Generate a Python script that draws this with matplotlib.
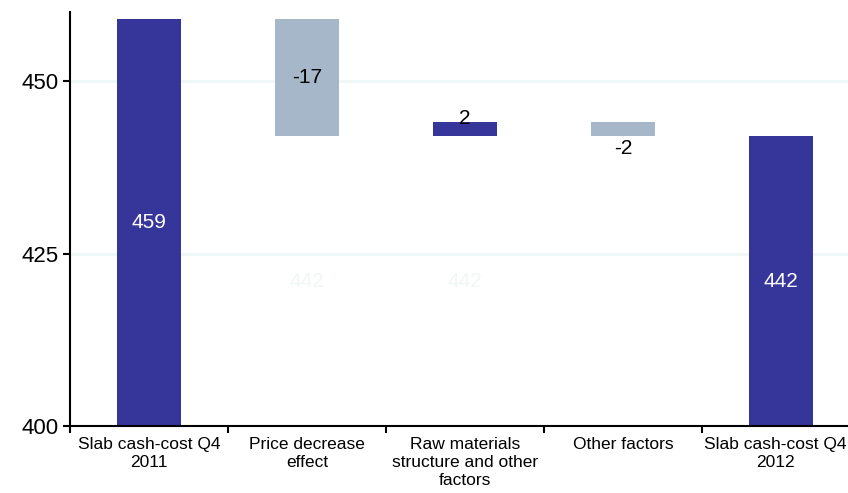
import matplotlib.pyplot as plt
import matplotlib.transforms as mtransforms
import numpy as np

plt.rcParams['font.family'] = ['Liberation Sans', 'DejaVu Sans']

# Puente de costes
categorias = ['Slab cash-cost Q4\n2011', 'Price decrease\neffect',
              'Raw materials\nstructure and other\nfactors', 'Other factors',
              'Slab cash-cost Q4\n2012']
inicio = 459
variaciones = [-17, 2, -2]
final = 442

oscuro = '#35359a'
claro = '#a5b7c9'

# Bases y alturas de cada barra
bases = [400]
alturas = [inicio - 400]
colores = [oscuro]
acum = inicio
for v in variaciones:
    nuevo = acum + v
    bases.append(min(acum, nuevo))
    alturas.append(abs(v))
    colores.append(claro if v < 0 else oscuro)
    acum = nuevo
bases.append(400)
alturas.append(final - 400)
colores.append(oscuro)

x = np.arange(len(categorias))

fig = plt.figure(figsize=(8.48, 4.93), dpi=100)
ax = fig.add_axes([70 / 848, 67 / 493, 790 / 848, 414 / 493])

for yg in [425, 450]:
    ax.axhline(yg, color='#f0f7f7', lw=2, zorder=0)

ax.bar(x, alturas, bottom=bases, width=0.41, color=colores, zorder=2)

# Etiquetas
fs = 15
ax.text(x[0], (400 + inicio) / 2, str(inicio), ha='center', va='center',
        color='white', fontsize=fs)
ax.text(x[-1], (400 + final) / 2, str(final), ha='center', va='center',
        color='white', fontsize=fs)
ax.text(x[1], bases[1] + alturas[1] / 2, str(variaciones[0]), ha='center',
        va='center', fontsize=fs)
ax.text(x[2], bases[2] + alturas[2] + 0.6, str(variaciones[1]), ha='center',
        va='center', fontsize=fs)
ax.text(x[3], bases[3] - 0.4, str(variaciones[2]), ha='center', va='top',
        fontsize=fs)
# etiquetas de las bases ocultas
for i in [1, 2]:
    ax.text(x[i], (400 + bases[i]) / 2, str(int(bases[i])), ha='center',
            va='center', color='#f1f6f6', fontsize=fs)

ax.set_xlim(-0.5, len(categorias) - 0.5)
ax.set_ylim(400, 460)
ax.set_yticks([400, 425, 450])
ax.set_xticks(np.arange(len(categorias) + 1) - 0.5, minor=False)
ax.set_xticklabels([])
ax.set_xticks(x, minor=True)
ax.set_xticklabels(categorias, minor=True, fontsize=12.5)
ax.tick_params(axis='x', which='minor', length=0, pad=8)
ax.tick_params(axis='x', which='major', length=5, width=1.5, direction='out')
ax.tick_params(axis='y', length=5, width=1.5, labelsize=16)
etiquetas = ax.get_xticklabels(minor=True)
for lbl in etiquetas:
    lbl.set_verticalalignment('top')
    lbl.set_linespacing(1.25)
# la ultima etiqueta se acerca un poco para que quepa
desplaza = mtransforms.ScaledTranslation(-6 / 100, 0, fig.dpi_scale_trans)
etiquetas[-1].set_transform(etiquetas[-1].get_transform() + desplaza)

ax.spines['top'].set_visible(False)
ax.spines['right'].set_visible(False)
ax.spines['left'].set_linewidth(1.5)
ax.spines['bottom'].set_linewidth(1.5)

fig.savefig('out.png', dpi=100)
